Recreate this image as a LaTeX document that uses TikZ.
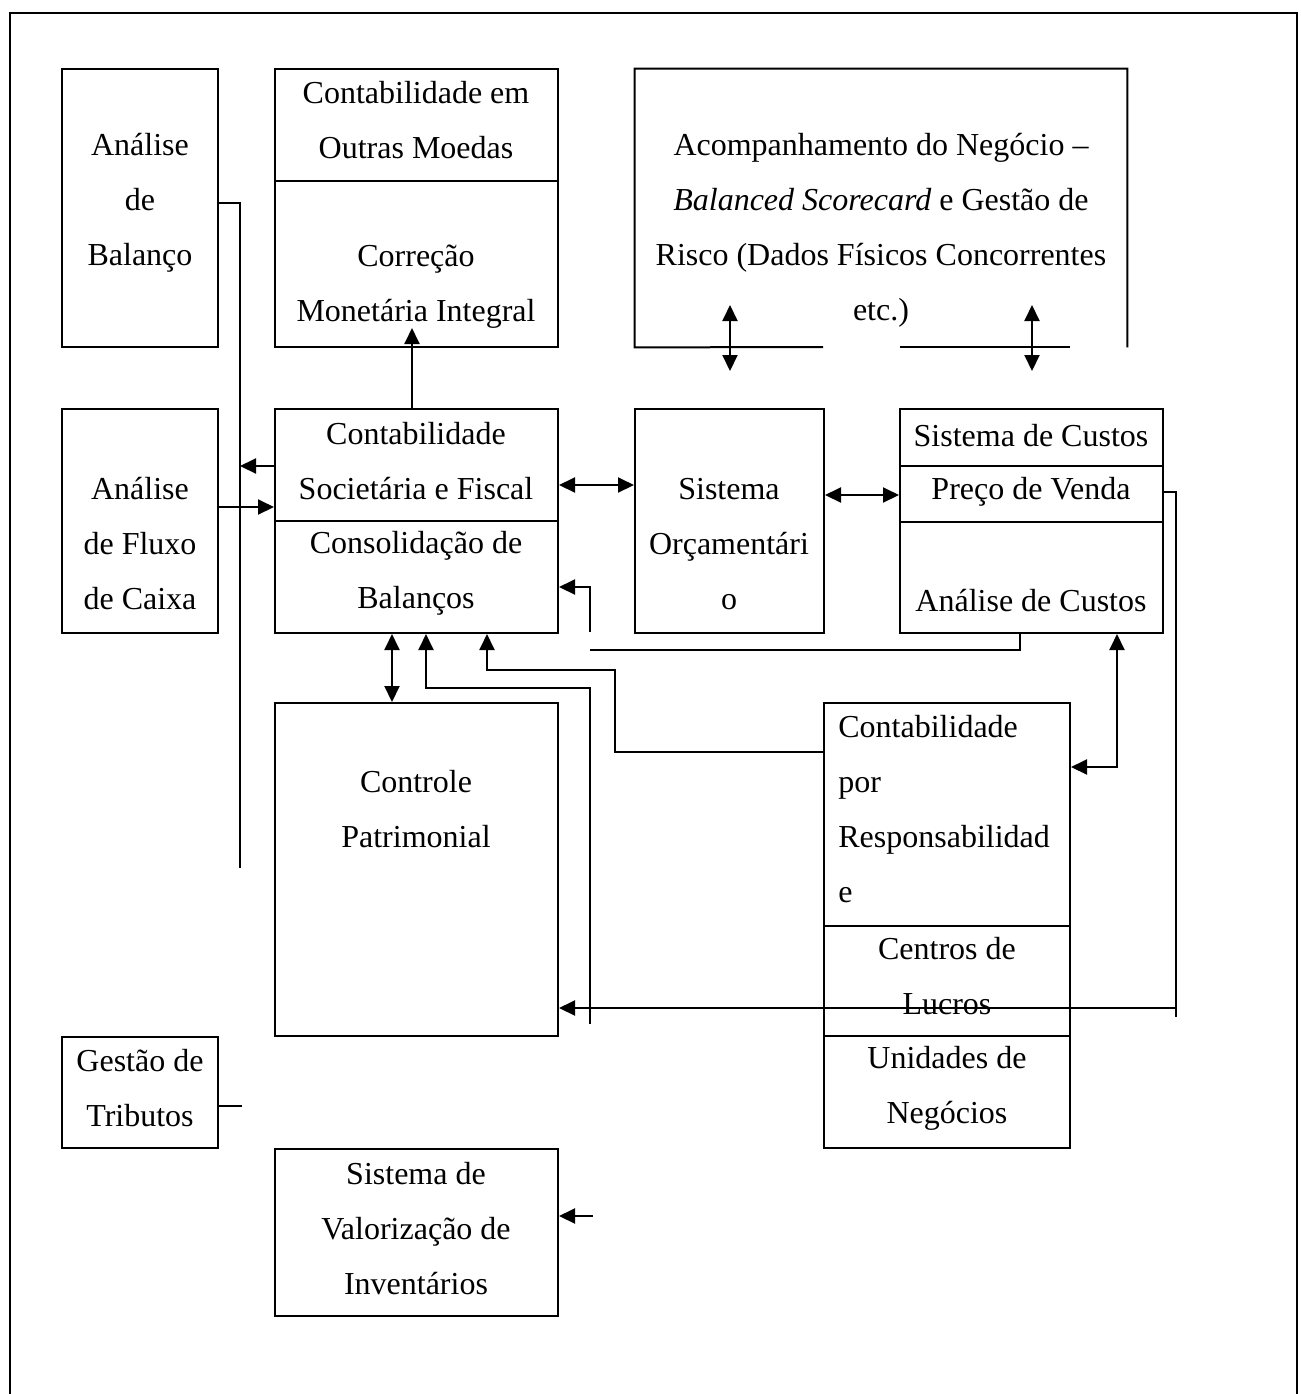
\documentclass[tikz,border=0pt]{standalone}
\usepackage{fontspec}
\setmainfont{Liberation Serif}
\usetikzlibrary{arrows.meta,fit}

\tikzset{
  caixa/.style={draw, line width=1pt, inner sep=0pt},
  rot/.style={align=center, inner sep=0pt, yshift=-2pt, font=\fontsize{16}{27.5}\selectfont},
  fio/.style={line width=0.7pt},
  seta/.style={line width=1pt, -{Triangle[length=8pt,width=7.5pt]}},
  seta2/.style={line width=1pt, {Triangle[length=8pt,width=7.5pt]}-{Triangle[length=8pt,width=7.5pt]}},
}

\begin{document}
\begin{tikzpicture}[x=0.5pt,y=-0.5pt]
\useasboundingbox (0,0) rectangle (1301,1394);
% moldura
\draw[line width=1.2pt] (10,1394) -- (10,13) -- (1297,13) -- (1297,1394);

% caixas
\node[caixa, fit={(62,69) (218,347)}] (bal) {};
\node[caixa, fit={(275,69) (558,347)}] (moe) {};
\node[inner sep=0pt, fit={(635,69) (1127,347)}] (acp) {};
\node[caixa, fit={(62,409) (218,633)}] (flx) {};
\node[caixa, fit={(275,409) (558,633)}] (soc) {};
\node[caixa, fit={(635,409) (824,633)}] (orc) {};
\node[caixa, fit={(900,409) (1163,633)}] (cst) {};
\node[caixa, fit={(275,703) (558,1036)}] (pat) {};
\node[caixa, fit={(824,703) (1070,1148)}] (rsp) {};
\node[caixa, fit={(62,1037) (218,1148)}] (trb) {};
\node[caixa, fit={(275,1149) (558,1316)}] (inv) {};

% borda aberta do acompanhamento
\draw[line width=1pt] (823,347) -- (acp.south west) -- (acp.north west) -- (acp.north east) -- (acp.south east);
\draw[line width=1pt] (900,347) -- (1070,347);

% divisorias
\draw[line width=1pt] (moe.west |- 0,181) -- (moe.east |- 0,181);
\draw[line width=1pt] (soc.west |- 0,521) -- (soc.east |- 0,521);
\draw[line width=1pt] (cst.west |- 0,466) -- (cst.east |- 0,466);
\draw[line width=1pt] (cst.west |- 0,522) -- (cst.east |- 0,522);
\draw[line width=1pt] (rsp.west |- 0,926) -- (rsp.east |- 0,926);
\draw[line width=1pt] (rsp.west |- 0,1036) -- (rsp.east |- 0,1036);

% textos
\node[rot] (balT) at (140,199) {Análise\\de\\Balanço};
\node[rot] (moeA) at (416,116) {Contabilidade em\\Outras Moedas};
\node[rot] (moeB) at (416,283) {Correção\\Monetária Integral};
\node[rot] (acpT) at (881,226) {Acompanhamento do Negócio –\\\textit{Balanced Scorecard} e Gestão de\\Risco (Dados Físicos Concorrentes\\etc.)};
\node[rot] (flxT) at (140,540) {Análise\\de Fluxo\\de Caixa};
\node[rot] (socA) at (416,457) {Contabilidade\\Societária e Fiscal};
\node[rot] (socB) at (416,569) {Consolidação de\\Balanços};
\node[rot] (orcT) at (729,540) {Sistema\\Orçamentári\\o};
\node[rot] (cstA) at (1031,432) {Sistema de Custos};
\node[rot] (cstB) at (1031,488) {Preço de Venda};
\node[rot] (cstC) at (1031,597) {Análise de Custos};
\node[rot] (patT) at (416,805) {Controle\\Patrimonial};
\node[rot, align=left, anchor=west] (rspA) at (838,805) {Contabilidade\\por\\Responsabilidad\\e};
\node[rot] (rspB) at (947,972) {Centros de\\Lucros};
\node[rot] (rspC) at (947,1084) {Unidades de\\Negócios};
\node[rot] (trbT) at (140,1084) {Gestão de\\Tributos};
\node[rot] (invT) at (416,1225) {Sistema de\\Valorização de\\Inventários};

% pontas soltas
\coordinate (balFim) at (240,868);
\coordinate (corPta) at (412,328);
\coordinate (acpE1) at (730,305);
\coordinate (acpE2) at (730,371);
\coordinate (acpD1) at (1032,305);
\coordinate (acpD2) at (1032,371);
\coordinate (vA) at (590,632);
\coordinate (vB) at (590,650);
\coordinate (vC) at (590,1024);
\coordinate (dobra1) at (426,688);
\coordinate (dobra2) at (615,670);
\coordinate (preFim) at (1176,1017);
\coordinate (trbFim) at (242,1106);
\coordinate (invIni) at (593,1216);

% ligacoes
\draw[fio] (bal.east |- balT) -| (balFim);
\draw[seta] (soc.west |- 0,466) -- (balFim |- 0,466);
\draw[seta] (flx.east |- 0,507) -- (soc.west |- 0,507);
\draw[seta] (soc.north -| corPta) -- (corPta);
\draw[seta2] (soc.east |- 0,485) -- (orc.west |- 0,485);
\draw[seta2] (orc.east |- 0,495) -- (cst.west |- 0,495);
\draw[seta2] (acpE1) -- (acpE2);
\draw[seta2] (acpD1) -- (acpD2);
\draw[seta] (vA) |- (soc.east |- 0,587);
\draw[fio] (vB) -| (cst.south -| 1020,0);
\draw[seta2] (soc.south -| 392,0) -- (pat.north -| 392,0);
\draw[seta] (vC) |- (dobra1) -- (soc.south -| dobra1);
\draw[seta] (rsp.west |- 0,752) -| (dobra2) -| (soc.south -| 487,0);
\draw[seta2] (cst.south -| 1117,0) |- (rsp.east |- 0,767);
\draw[fio] (cst.east |- cstB) -| (preFim);
\draw[seta] (preFim |- 0,1008) -- (pat.east |- 0,1008);
\draw[fio] (trb.east |- 0,1106) -- (trbFim);
\draw[seta] (invIni) -- (inv.east |- 0,1216);
\end{tikzpicture}
\end{document}
